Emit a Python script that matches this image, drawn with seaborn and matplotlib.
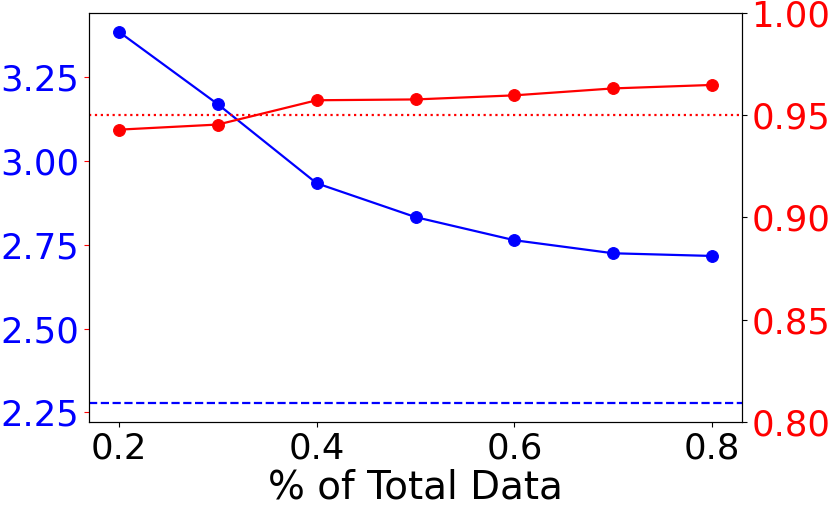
import numpy as np
import pandas as pd
import matplotlib
matplotlib.use("Agg")
import matplotlib.pyplot as plt
import seaborn as sns

# data
fractions = [0.2, 0.3, 0.4, 0.5, 0.6, 0.7, 0.8]
left_values = [3.386, 3.170, 2.934, 2.833, 2.764, 2.725, 2.717]
right_values = [0.943, 0.9455, 0.9574, 0.9578, 0.9598, 0.9632, 0.9649]
left_baseline = 2.278
right_baseline = 0.95
right_ticks = [0.80, 0.85, 0.90, 0.95, 1.00]

df = pd.DataFrame({"frac": fractions, "left": left_values, "right": right_values})

plt.rcParams['font.family'] = ['DejaVu Sans']
fig, ax1 = plt.subplots(figsize=(8.31, 5.11), dpi=100)
fig.subplots_adjust(left=0.1075, right=0.8925, top=0.974, bottom=0.175)

sns.lineplot(data=df, x="frac", y="left", ax=ax1, color="blue", marker="o",
             markersize=8.5, markeredgecolor="blue", linewidth=1.6)
ax1.axhline(left_baseline, color="blue", linestyle="--", linewidth=1.6)

ax2 = ax1.twinx()
sns.lineplot(data=df, x="frac", y="right", ax=ax2, color="red", marker="o",
             markersize=8.5, markeredgecolor="red", linewidth=1.6)
ax2.axhline(right_baseline, color="red", linestyle=":", linewidth=1.6)

ax1.set_xlabel("% of Total Data", fontsize=28, labelpad=2)
ax1.set_ylabel("")
ax2.set_ylabel("")
ax1.set_xticks([0.2, 0.4, 0.6, 0.8])
ax1.tick_params(axis="x", labelsize=25.5)
ax1.tick_params(axis="y", labelsize=25.5, color="red", labelcolor="blue")
ax2.set_ylim(0.80, 1.00)
ax2.set_yticks(right_ticks)
ax2.tick_params(axis="y", labelsize=25.5, labelcolor="red")

fig.savefig("out.png", dpi=100)
plt.close(fig)
